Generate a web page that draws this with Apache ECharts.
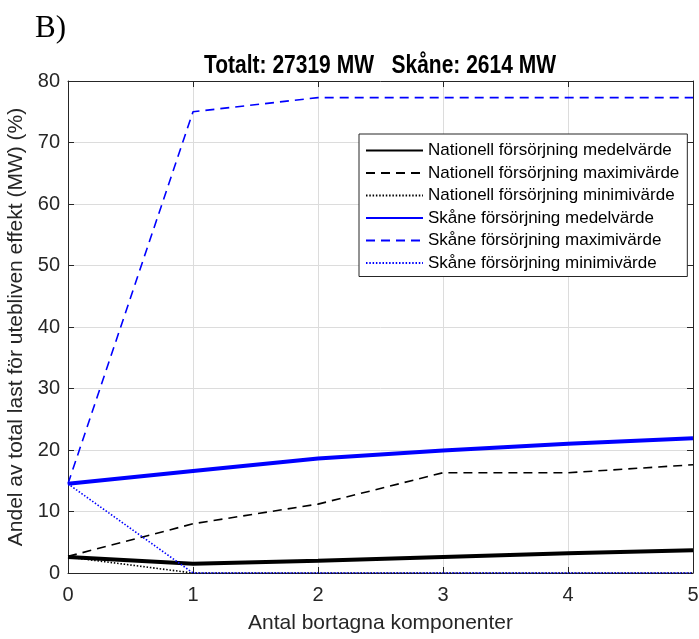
<!DOCTYPE html>
<html>
<head>
    <meta charset="utf-8"/>
    <title>Andel av total last</title>
    <script src="https://cdn.jsdelivr.net/npm/echarts@6/dist/echarts.min.js"></script>
    <style>
        html, body { margin: 0; padding: 0; background: #fff; }
        #chart { width: 699px; height: 639px; }
    </style>
</head>
<body>
<div id="chart"></div>
<script>
    // antal bortagna komponenter
    var antal = [0, 1, 2, 3, 4, 5];
    var yTicks = [0, 10, 20, 30, 40, 50, 60, 70, 80];

    // nationell försörjning (%)
    var natMedel = [2.6, 1.5, 2.0, 2.6, 3.2, 3.7];
    var natMax = [2.7, 8.0, 11.2, 16.3, 16.3, 17.6];
    var natMin = [2.6, 0, 0, 0, 0, 0];

    // Skåne försörjning (%)
    var skaneMedel = [14.5, 16.6, 18.6, 19.9, 21.0, 21.9];
    var skaneMax = [14.5, 75.0, 77.3, 77.3, 77.3, 77.3];
    var skaneMin = [14.5, 0, 0, 0, 0, 0];

    var font = 'Liberation Sans, Arial, sans-serif';
    var axisCol = '#262626';

    function pts(arr) {
        var out = [];
        for (var i = 0; i < arr.length; i++) {
            out.push([antal[i], arr[i]]);
        }
        return out;
    }

    function serie(name, arr, color, width, type, z) {
        return {
            name: name,
            type: 'line',
            data: pts(arr),
            symbol: 'none',
            z: z,
            lineStyle: { color: color, width: width, type: type },
            itemStyle: { color: color, opacity: 0 },
            emphasis: { disabled: true }
        };
    }

    var myChart = echarts.init(document.getElementById('chart'));
    var option = {
        animation: false,
        title: {
            text: 'B)',
            left: 30,
            top: 8,
            textStyle: { fontFamily: 'Liberation Serif, Times New Roman, serif', fontSize: 31, fontWeight: 'normal', color: '#000' }
        },
        // smal fet rubrik (skalad i x-led)
        graphic: [{
            type: 'text',
            x: 380,
            y: 66,
            scaleX: 0.84,
            style: {
                text: 'Totalt: 27319 MW   Skåne: 2614 MW',
                font: 'bold 25px Liberation Sans, Arial, sans-serif',
                fill: '#000',
                textAlign: 'center',
                textVerticalAlign: 'middle'
            }
        }],
        legend: {
            orient: 'vertical',
            left: 359,
            top: 134,
            width: 329,
            padding: [8, 8, 5, 6],
            itemGap: 5.5,
            itemWidth: 57,
            itemHeight: 16,
            borderColor: '#262626',
            borderWidth: 1,
            backgroundColor: '#fff',
            itemStyle: { opacity: 0 },
            textStyle: { fontFamily: font, fontSize: 17, color: '#000' },
            data: [
                'Nationell försörjning medelvärde',
                'Nationell försörjning maximivärde',
                'Nationell försörjning minimivärde',
                'Skåne försörjning medelvärde',
                'Skåne försörjning maximivärde',
                'Skåne försörjning minimivärde'
            ]
        },
        grid: { left: 68, right: 6, top: 81, bottom: 66, containLabel: false, outerBoundsMode: 'none' },
        xAxis: [{
            type: 'value',
            min: 0,
            max: 5,
            interval: 1,
            name: 'Antal bortagna komponenter',
            nameLocation: 'middle',
            nameGap: 40,
            nameTextStyle: { fontFamily: font, fontSize: 21, color: axisCol },
            axisLine: { onZero: false, lineStyle: { color: axisCol, width: 1 } },
            axisTick: { inside: true, length: 6, lineStyle: { color: axisCol } },
            axisLabel: { fontFamily: font, fontSize: 20, color: axisCol, margin: 12 },
            splitLine: { show: true, lineStyle: { color: '#dcdcdc', width: 1 } }
        }, {
            type: 'value',
            position: 'top',
            min: 0,
            max: 5,
            interval: 1,
            axisLine: { onZero: false, lineStyle: { color: axisCol, width: 1 } },
            axisTick: { inside: true, length: 6, lineStyle: { color: axisCol } },
            axisLabel: { show: false },
            splitLine: { show: false }
        }],
        yAxis: [{
            type: 'value',
            min: 0,
            max: 80,
            interval: 10,
            name: 'Andel av total last för utebliven effekt (MW) (%)',
            nameLocation: 'middle',
            nameGap: 37,
            nameTextStyle: { fontFamily: font, fontSize: 21, color: axisCol },
            axisLine: { show: true, onZero: false, lineStyle: { color: axisCol, width: 1 } },
            axisTick: { show: true, inside: true, length: 6, lineStyle: { color: axisCol } },
            axisLabel: {
                fontFamily: font, fontSize: 20, color: axisCol, margin: 8,
                formatter: function (v) { return yTicks.indexOf(v) >= 0 ? String(v) : ''; }
            },
            splitLine: { show: true, lineStyle: { color: '#dcdcdc', width: 1 } }
        }, {
            type: 'value',
            position: 'right',
            min: 0,
            max: 80,
            interval: 10,
            axisLine: { show: true, onZero: false, lineStyle: { color: axisCol, width: 1 } },
            axisTick: { show: true, inside: true, length: 6, lineStyle: { color: axisCol } },
            axisLabel: { show: false },
            splitLine: { show: false }
        }],
        series: [
            serie('Nationell försörjning medelvärde', natMedel, '#000000', 4, 'solid', 5),
            serie('Nationell försörjning maximivärde', natMax, '#000000', 1.6, [9, 6], 4),
            serie('Nationell försörjning minimivärde', natMin, '#000000', 1.6, [1.5, 1.8], 3),
            serie('Skåne försörjning medelvärde', skaneMedel, '#0000ff', 4, 'solid', 5),
            serie('Skåne försörjning maximivärde', skaneMax, '#0000ff', 1.6, [9, 6], 4),
            serie('Skåne försörjning minimivärde', skaneMin, '#0000ff', 1.6, [1.5, 1.8], 6)
        ]
    };
    myChart.setOption(option);
</script>
</body>
</html>
